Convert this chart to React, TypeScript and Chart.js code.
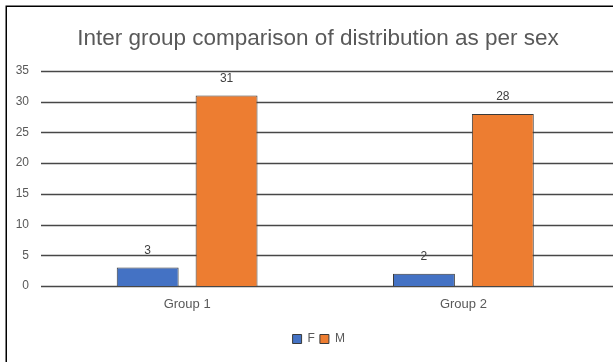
import React, { useEffect, useRef } from "react";
import { Chart, registerables } from "chart.js";

Chart.register(...registerables);

const categories = ["Group 1", "Group 2"];
const femaleValues = [3, 2];
const maleValues = [31, 28];
const yTicks = [0, 5, 10, 15, 20, 25, 30, 35];
const titleText = "Inter group comparison of distribution as per sex";

const FONT = "'Liberation Sans', Arial, sans-serif";
const TEXT = "#595959";

const framePlugin = {
  id: "frame",
  beforeDraw(chart: any) {
    const ctx = chart.ctx;
    ctx.save();
    ctx.fillStyle = "#ffffff";
    ctx.fillRect(0, 0, chart.width, chart.height);
    ctx.strokeStyle = "#000000";
    ctx.lineWidth = 1.5;
    ctx.strokeRect(6.25, 6.25, chart.width + 20, chart.height + 20);
    ctx.restore();
  },
  afterLayout(chart: any) {
    // centre the title and legend over the whole frame rather than the padded box
    const tb = chart.titleBlock;
    if (tb) {
      tb.left = 34;
      tb.right = 602;
    }
    const lg = chart.legend;
    if (lg) {
      lg.left += 18;
      lg.right += 18;
    }
  },
};

const gridPlugin = {
  id: "hgrid",
  beforeDatasetsDraw(chart: any) {
    const ctx = chart.ctx;
    const y = chart.scales.y;
    const area = chart.chartArea;
    ctx.save();
    ctx.strokeStyle = "#474747";
    ctx.lineWidth = 1.3;
    y.ticks.forEach((t: any) => {
      const py = Math.round(y.getPixelForValue(t.value)) + 0.5;
      ctx.beginPath();
      ctx.moveTo(area.left - 8, py);
      ctx.lineTo(chart.width, py);
      ctx.stroke();
    });
    ctx.restore();
  },
};

const labelPlugin = {
  id: "vlabels",
  afterDatasetsDraw(chart: any) {
    const ctx = chart.ctx;
    ctx.save();
    ctx.fillStyle = "#404040";
    ctx.font = `12px ${FONT}`;
    ctx.textAlign = "center";
    ctx.textBaseline = "middle";
    chart.data.datasets.forEach((ds: any, i: number) => {
      const meta = chart.getDatasetMeta(i);
      meta.data.forEach((bar: any, j: number) => {
        ctx.fillText(String(ds.data[j]), bar.x, bar.y - 17);
      });
    });
    ctx.restore();
  },
};

export default function App() {
  const ref = useRef<HTMLCanvasElement>(null);
  useEffect(() => {
    if (!ref.current) return;
    const chart = new Chart(ref.current, {
      type: "bar",
      data: {
        labels: categories,
        datasets: [
          {
            label: "F",
            data: femaleValues,
            backgroundColor: "#4472C4",
            borderColor: "#3a3a3a",
            borderWidth: 1,
            barPercentage: 0.785,
            categoryPercentage: 0.571,
          },
          {
            label: "M",
            data: maleValues,
            backgroundColor: "#ED7D31",
            borderColor: "#3a3a3a",
            borderWidth: 1,
            barPercentage: 0.785,
            categoryPercentage: 0.571,
          },
        ],
      },
      options: {
        responsive: false,
        animation: false,
        layout: { padding: { left: 0, right: 11.5, top: 0, bottom: 7 } },
        scales: {
          x: {
            grid: { display: false },
            border: { display: false },
            ticks: { color: TEXT, font: { family: FONT, size: 13 }, padding: 3 },
            afterFit: (s: any) => {
              s.height = 42;
            },
          },
          y: {
            min: 0,
            max: 35,
            grid: { display: false },
            border: { display: false },
            afterBuildTicks: (s: any) => {
              s.ticks = yTicks.map((v) => ({ value: v }));
            },
            ticks: { color: TEXT, font: { family: FONT, size: 12 }, padding: 12 },
            afterFit: (s: any) => {
              s.width = 49;
            },
          },
        },
        plugins: {
          title: {
            display: true,
            text: titleText,
            color: TEXT,
            font: { family: FONT, size: 22.5, weight: "normal" },
            padding: { top: 25, bottom: 19 },
          },
          legend: {
            position: "bottom",
            labels: {
              color: TEXT,
              font: { family: FONT, size: 12 },
              boxWidth: 9,
              boxHeight: 9,
              padding: 5,
            },
          },
          tooltip: { enabled: false },
        },
      },
      plugins: [framePlugin, gridPlugin, labelPlugin],
    });
    return () => chart.destroy();
  }, []);
  return (
    <div style={{ position: "fixed", left: 0, top: 0, width: 613, height: 362 }}>
      <canvas ref={ref} width={613} height={362} style={{ display: "block" }} />
    </div>
  );
}
